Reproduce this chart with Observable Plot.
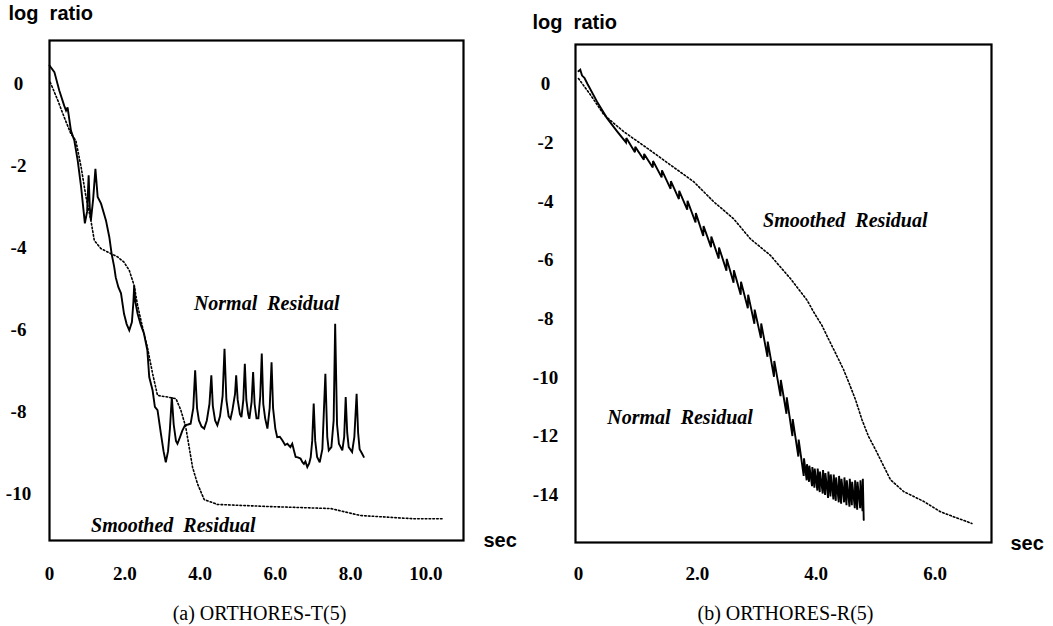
<!DOCTYPE html>
<html><head><meta charset="utf-8">
<script src="https://cdn.jsdelivr.net/npm/d3@7"></script>
<script src="https://cdn.jsdelivr.net/npm/@observablehq/plot@0.6"></script>
<style>
html,body{margin:0;padding:0;background:#fff;}
#wrap{position:relative;width:1053px;height:626px;overflow:hidden;background:#fff;}
#pa{position:absolute;left:0;top:0;}
#pb{position:absolute;left:520px;top:0;}
svg text{white-space:pre;}
</style></head>
<body><div id="wrap"><div id="pa"></div><div id="pb"></div></div>
<script>
// ---------- Panel (a) ORTHORES-T(5) ----------
const aXTicks = [0, 2, 4, 6, 8, 10];
const aXTickLabels = ["0", "2.0", "4.0", "6.0", "8.0", "10.0"];
const aYTicks = [0, -2, -4, -6, -8, -10];
const aYTickLabels = ["0", "-2", "-4", "-6", "-8", "-10"];

const aNormal = [
  [0.00,0.46],[0.13,0.30],[0.26,-0.15],[0.39,-0.52],[0.44,-0.64],[0.48,-0.56],[0.57,-1.13],
  [0.66,-1.37],[0.75,-1.86],[0.84,-2.51],[0.94,-3.39],[1.00,-3.10],[1.04,-2.22],[1.07,-3.00],
  [1.10,-3.32],[1.16,-2.80],[1.22,-2.06],[1.28,-2.75],[1.37,-2.91],[1.50,-3.32],[1.59,-3.73],
  [1.65,-4.13],[1.72,-4.46],[1.76,-4.71],[1.83,-4.95],[1.90,-5.10],[1.98,-5.60],[2.05,-5.85],
  [2.12,-6.00],[2.19,-5.80],[2.23,-5.30],[2.25,-4.91],[2.28,-5.30],[2.34,-5.59],[2.42,-5.85],
  [2.51,-6.08],[2.60,-6.49],[2.65,-7.14],[2.74,-7.47],[2.80,-7.87],[2.87,-7.95],[2.96,-8.52],
  [3.03,-8.95],[3.09,-9.22],[3.15,-8.95],[3.20,-8.40],[3.25,-7.63],[3.30,-8.30],[3.36,-8.70],
  [3.40,-8.77],[3.47,-8.60],[3.53,-8.45],[3.60,-8.32],[3.68,-8.30],[3.75,-8.28],[3.82,-7.90],
  [3.87,-6.98],[3.92,-7.90],[3.97,-8.20],[4.04,-8.35],[4.11,-8.40],[4.18,-8.20],[4.25,-7.80],
  [4.30,-7.10],[4.34,-7.85],[4.40,-8.20],[4.46,-8.32],[4.53,-8.10],[4.60,-7.60],[4.65,-6.45],
  [4.70,-7.70],[4.76,-8.10],[4.81,-8.16],[4.86,-7.95],[4.93,-7.55],[4.96,-7.10],[5.00,-7.70],
  [5.06,-8.05],[5.10,-8.12],[5.15,-7.70],[5.19,-6.82],[5.23,-7.70],[5.28,-8.05],[5.31,-8.16],
  [5.37,-7.75],[5.41,-7.02],[5.45,-7.80],[5.50,-8.15],[5.55,-8.15],[5.60,-7.60],[5.64,-6.57],
  [5.68,-7.80],[5.73,-8.15],[5.79,-8.40],[5.85,-7.90],[5.90,-6.78],[5.94,-7.90],[6.00,-8.40],
  [6.05,-8.61],[6.12,-8.60],[6.19,-8.69],[6.26,-8.80],[6.32,-8.77],[6.40,-8.85],[6.45,-8.77],
  [6.50,-8.95],[6.54,-9.09],[6.60,-9.10],[6.67,-9.13],[6.72,-9.22],[6.76,-9.26],[6.80,-9.20],
  [6.85,-9.34],[6.90,-9.25],[6.94,-9.10],[6.98,-8.70],[7.02,-7.79],[7.06,-8.70],[7.11,-9.09],
  [7.18,-9.22],[7.25,-8.90],[7.33,-7.06],[7.38,-8.60],[7.42,-8.93],[7.49,-8.85],[7.55,-8.20],
  [7.59,-5.84],[7.64,-8.30],[7.69,-8.77],[7.78,-8.93],[7.83,-8.60],[7.87,-7.63],[7.91,-8.50],
  [7.95,-8.85],[8.04,-8.97],[8.10,-8.60],[8.16,-7.55],[8.20,-8.50],[8.24,-8.90],[8.30,-9.00],
  [8.35,-9.09]
];
const aSmoothed = [
  [0.02,0.05],[0.22,-0.39],[0.39,-0.80],[0.57,-1.21],[0.70,-1.37],[0.84,-2.02],[0.97,-2.75],
  [1.10,-3.32],[1.19,-3.81],[1.37,-4.01],[1.63,-4.13],[1.81,-4.21],[1.98,-4.34],[2.12,-4.54],
  [2.25,-4.91],[2.34,-5.39],[2.47,-5.92],[2.60,-6.41],[2.74,-7.06],[2.87,-7.59],[3.14,-7.63],
  [3.36,-7.67],[3.49,-7.95],[3.62,-8.36],[3.71,-8.85],[3.80,-9.34],[3.93,-9.74],[4.11,-10.13],
  [4.46,-10.25],[5.79,-10.30],[7.47,-10.35],[8.26,-10.52],[9.68,-10.60],[10.47,-10.60]
];
const aLabels = [
  {x: 5.77, y: -5.34, text: "Normal  Residual"},
  {x: 3.29, y: -10.76, text: "Smoothed  Residual"}
];

// ---------- Panel (b) ORTHORES-R(5) ----------
const bXTicks = [0, 2, 4, 6];
const bXTickLabels = ["0", "2.0", "4.0", "6.0"];
const bYTicks = [0, -2, -4, -6, -8, -10, -12, -14];
const bYTickLabels = ["0", "-2", "-4", "-6", "-8", "-10", "-12", "-14"];

const bNormal = [
  [0.00,0.45],[0.03,0.50],[0.06,0.30],[0.10,0.22],[0.15,0.02],[0.31,-0.58],[0.48,-1.15],[0.65,-1.60],
  [0.80,-1.98],[0.805,-1.83],[0.95,-2.31],[0.955,-2.13],[1.10,-2.57],[1.105,-2.37],
  [1.25,-2.83],[1.255,-2.61],[1.40,-3.17],[1.405,-2.93],[1.55,-3.56],[1.555,-3.30],
  [1.69,-3.91],[1.695,-3.63],[1.83,-4.27],[1.835,-3.97],[1.97,-4.71],[1.975,-4.39],
  [2.10,-5.17],[2.105,-4.83],[2.23,-5.55],[2.235,-5.19],[2.36,-5.94],[2.365,-5.56],
  [2.49,-6.35],[2.495,-5.95],[2.61,-6.76],[2.615,-6.34],[2.73,-7.17],[2.735,-6.73],
  [2.85,-7.63],[2.855,-7.17],[2.96,-8.16],[2.965,-7.68],[3.07,-8.65],[3.075,-8.15],
  [3.18,-9.29],[3.185,-8.77],[3.29,-9.97],[3.295,-9.43],[3.40,-10.63],[3.405,-10.08],
  [3.50,-11.23],[3.505,-10.67],[3.60,-11.99],[3.605,-11.41],[3.70,-12.69],[3.705,-12.11],
  [3.79,-13.35],[3.795,-12.75],
  [3.84,-13.50],[3.845,-12.95],[3.88,-13.55],[3.885,-13.00],[3.93,-13.70],[3.935,-13.05],
  [3.97,-13.75],[3.975,-13.10],[4.02,-13.85],[4.025,-13.10],[4.06,-13.90],[4.065,-13.20],
  [4.11,-13.95],[4.115,-13.15],[4.15,-14.00],[4.155,-13.25],[4.20,-14.10],[4.205,-13.20],
  [4.24,-14.05],[4.245,-13.30],[4.29,-14.15],[4.295,-13.30],[4.33,-14.20],[4.335,-13.40],
  [4.38,-14.25],[4.385,-13.35],[4.42,-14.30],[4.425,-13.45],[4.47,-14.25],[4.475,-13.40],
  [4.51,-14.35],[4.515,-13.50],[4.56,-14.40],[4.565,-13.45],[4.60,-14.35],[4.605,-13.55],
  [4.65,-14.45],[4.655,-13.50],[4.69,-14.50],[4.695,-13.55],[4.74,-14.45],[4.745,-13.50],
  [4.78,-14.55],[4.785,-13.45],[4.80,-14.85]
];
const bSmoothed = [
  [0.00,0.20],[0.20,-0.35],[0.43,-1.04],[0.76,-1.61],[1.16,-2.18],[1.55,-2.75],[1.94,-3.32],
  [2.28,-4.01],[2.61,-4.58],[2.89,-5.26],[3.23,-5.83],[3.57,-6.63],[3.85,-7.37],[3.96,-7.77],
  [4.10,-8.23],[4.18,-8.57],[4.32,-9.14],[4.46,-9.72],[4.55,-10.17],[4.66,-10.74],[4.77,-11.43],
  [4.88,-12.00],[5.00,-12.46],[5.11,-12.91],[5.25,-13.48],[5.47,-13.88],[5.81,-14.22],
  [6.09,-14.57],[6.31,-14.74],[6.62,-14.97]
];
const bLabels = [
  {x: 4.49, y: -4.65, text: "Smoothed  Residual"},
  {x: 1.71, y: -11.37, text: "Normal  Residual"}
];

const yAxisTitle = "log  ratio";
const xAxisTitle = "sec";
const captions = ["(a) ORTHORES-T(5)", "(b) ORTHORES-R(5)"];

const pts = arr => arr.map(([x, y]) => ({x, y}));
const SERIF = "'Liberation Serif','Times New Roman',serif";
const SANS = "'Liberation Sans',Arial,sans-serif";

function panel(cfg) {
  return Plot.plot({
    width: cfg.width, height: 626,
    marginTop: cfg.mt, marginRight: cfg.mr, marginBottom: cfg.mb, marginLeft: cfg.ml,
    style: {background: "white", color: "black", overflow: "visible", whiteSpace: "pre"},
    x: {domain: cfg.xDomain, axis: null},
    y: {domain: cfg.yDomain, axis: null},
    marks: [
      Plot.line(pts(cfg.smoothed), {x: "x", y: "y", stroke: "black", strokeWidth: 1.6, strokeDasharray: "1.6,2.2"}),
      Plot.line(pts(cfg.normal), {x: "x", y: "y", stroke: "black", strokeWidth: 1.9, strokeLinejoin: "miter", strokeMiterlimit: 3}),
      Plot.frame({stroke: "black", strokeWidth: 2.2}),
      // x tick labels (through the x scale)
      Plot.text(cfg.xTicks, {x: d => d, text: (d, i) => cfg.xTickLabels[i], frameAnchor: "bottom",
        dy: cfg.xDy, lineAnchor: "middle", fontFamily: SERIF, fontSize: 19, fontWeight: "bold"}),
      // y tick labels (through the y scale)
      Plot.text(cfg.yTicks, {y: d => d, text: (d, i) => cfg.yTickLabels[i], frameAnchor: "left",
        dx: cfg.yDx, textAnchor: "middle", lineAnchor: "middle", fontFamily: SERIF, fontSize: 19, fontWeight: "bold"}),
      Plot.text(cfg.labels, {x: "x", y: "y", text: "text", fontFamily: SERIF, fontSize: 20,
        fontWeight: "bold", fontStyle: "italic"}),
      Plot.text([yAxisTitle], {frameAnchor: "top-left", dx: cfg.ltDx, dy: cfg.ltDy, lineAnchor: "bottom",
        textAnchor: "start", fontFamily: SANS, fontSize: 20, fontWeight: "bold"}),
      Plot.text([xAxisTitle], {frameAnchor: "bottom-right", dx: cfg.secDx, dy: cfg.secDy, lineAnchor: "middle",
        textAnchor: "start", fontFamily: SANS, fontSize: 20, fontWeight: "bold"}),
      Plot.text([cfg.caption], {frameAnchor: "bottom", dx: cfg.capDx, dy: cfg.capDy, lineAnchor: "middle",
        fontFamily: SERIF, fontSize: 20})
    ]
  });
}

document.getElementById("pa").append(panel({
  width: 520, mt: 40, mr: 57, mb: 86, ml: 49,
  xDomain: [0, 11], yDomain: [-11.13, 1.07],
  xTicks: aXTicks, xTickLabels: aXTickLabels, yTicks: aYTicks, yTickLabels: aYTickLabels,
  normal: aNormal, smoothed: aSmoothed, labels: aLabels,
  xDy: 33, yDx: -31, ltDx: -41, ltDy: -21, secDx: 20, secDy: 0,
  caption: captions[0], capDx: 3, capDy: 73
}));
document.getElementById("pb").append(panel({
  width: 533, mt: 44, mr: 62, mb: 84, ml: 55,
  xDomain: [-0.05, 6.95], yDomain: [-15.62, 1.36],
  xTicks: bXTicks, xTickLabels: bXTickLabels, yTicks: bYTicks, yTickLabels: bYTickLabels,
  normal: bNormal, smoothed: bSmoothed, labels: bLabels,
  xDy: 31, yDx: -30, ltDx: -43, ltDy: -16, secDx: 19, secDy: 1,
  caption: captions[1], capDx: 2, capDy: 71
}));
</script></body></html>
